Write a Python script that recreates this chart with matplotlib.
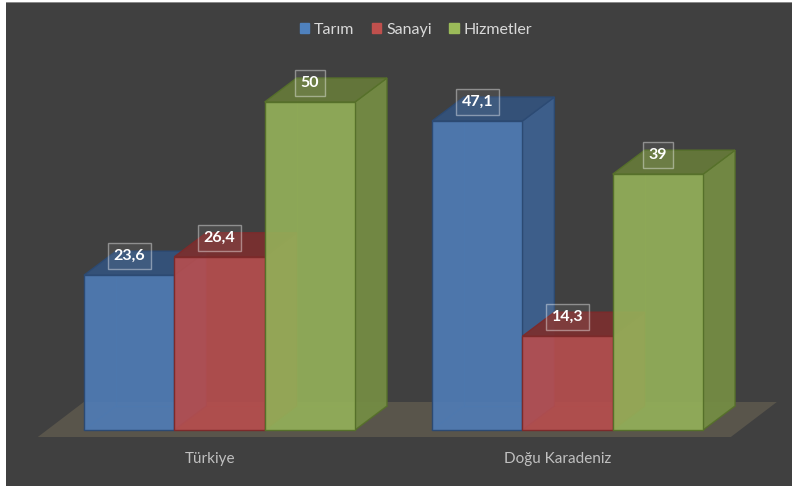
import matplotlib
matplotlib.use('Agg')
import matplotlib.pyplot as plt
from matplotlib.patches import Polygon, Rectangle, Patch

plt.rcParams['font.family'] = ['Lato', 'DejaVu Sans']

categories = ['Türkiye', 'Doğu Karadeniz']
series = ['Tarım', 'Sanayi', 'Hizmetler']
tarim = [23.6, 47.1]
sanayi = [26.4, 14.3]
hizmetler = [50, 39]
values = [tarim, sanayi, hizmetler]

# styles: (front, side, top, edge)
styles = [
    ('#4f7db8', '#3d608f', '#34527c', '#2c4a73'),
    ('#b84e4e', '#8e3a3a', '#7a3030', '#7d2a2a'),
    ('#95b25a', '#748c44', '#66793a', '#56702a'),
]
legend_colors = ['#4f81bd', '#c0504d', '#9bbb59']

W, H, DPI = 792, 486, 100
PX_X = 90.33      # pixels per bar width
PX_Y = 6.56       # pixels per value unit
X0 = 84           # left pixel of first bar
BASE = 56         # bar base, pixels from bottom
GAP = 0.853       # gap between groups (bar widths)
DX, DY = 32 / PX_X, 24 / PX_Y

fig = plt.figure(figsize=(W / DPI, H / DPI), dpi=DPI, facecolor='white')
fig.patches.append(Rectangle((6 / W, 0), 1 - 6 / W, (H - 2) / H, transform=fig.transFigure,
                             facecolor='#404040', edgecolor='none', zorder=-10))
fig.patches.append(Rectangle((6 / W, (H - 3) / H), 1 - 6 / W, 1.2 / H, transform=fig.transFigure,
                             facecolor='#8a8a8a', edgecolor='none', zorder=-10))

ax = fig.add_axes([0, 0, 1, 1])
ax.set_zorder(1)
ax.set_xlim(-X0 / PX_X, (W - X0) / PX_X)
ax.set_ylim(-BASE / PX_Y, (H - BASE) / PX_Y)
ax.axis('off')
ax.patch.set_alpha(0)

n_ser = len(series)
group_starts = [g * (n_ser + GAP) for g in range(len(categories))]

# floor
margin = 37 / PX_X
fx0 = group_starts[0] - margin
fx1 = group_starts[-1] + n_ser + margin
f_front = (-9.2 / PX_X, -7 / PX_Y)
f_back = (36.8 / PX_X, 28 / PX_Y)
floor = [(fx0 + f_front[0], f_front[1]), (fx1 + f_front[0], f_front[1]),
         (fx1 + f_back[0], f_back[1]), (fx0 + f_back[0], f_back[1])]
ax.add_patch(Polygon(floor, closed=True, facecolor='#59554b', edgecolor='none', zorder=1))

z = 2
for g, gs in enumerate(group_starts):
    for s in range(n_ser):
        h = values[s][g]
        x = gs + s
        w = 1.0
        fc, sc, tc, ec = styles[s]
        # hidden back edges
        ax.plot([x + DX, x + DX, x + w + DX], [h + DY, DY, DY], color=ec, lw=0.8, alpha=0.35, zorder=z)
        ax.plot([x, x + DX], [0, DY], color=ec, lw=0.8, alpha=0.35, zorder=z)
        front = [(x, 0), (x + w, 0), (x + w, h), (x, h)]
        right = [(x + w, 0), (x + w + DX, DY), (x + w + DX, h + DY), (x + w, h)]
        top = [(x, h), (x + w, h), (x + w + DX, h + DY), (x + DX, h + DY)]
        ax.add_patch(Polygon(right, closed=True, facecolor=sc, edgecolor=ec, lw=1.0, alpha=0.95, zorder=z + 1))
        ax.add_patch(Polygon(top, closed=True, facecolor=tc, edgecolor=ec, lw=1.0, alpha=0.95, zorder=z + 1))
        ax.add_patch(Polygon(front, closed=True, facecolor=fc, edgecolor='none', alpha=0.9, zorder=z + 2))
        ax.add_patch(Polygon(front, closed=True, facecolor='none', edgecolor=ec, lw=1.0, zorder=z + 2))
        z += 3

# data labels
for g, gs in enumerate(group_starts):
    for s in range(n_ser):
        h = values[s][g]
        x = gs + s
        lab = f"{h:g}".replace('.', ',')
        ax.text(x + 0.5, h + 19 / PX_Y, lab, ha='center', va='center', color='white',
                fontsize=11.5, fontweight='bold', zorder=100,
                bbox=dict(boxstyle='square,pad=0.36', facecolor=(1, 1, 1, 0.06),
                          edgecolor=(1, 1, 1, 0.4), lw=1.0))

# category labels
for g, gs in enumerate(group_starts):
    ax.text(gs + n_ser / 2 - 0.105, -29 / PX_Y, categories[g], ha='center', va='center',
            color='#c0c0c0', fontsize=11, zorder=100)

handles = [Patch(facecolor=c, edgecolor=c) for c in legend_colors]
fig.legend(handles, series, loc='center', bbox_to_anchor=(416 / W, 1 - 30 / H), ncol=3,
           frameon=False, fontsize=11.5, labelcolor='#d9d9d9', handlelength=0.6,
           handleheight=0.6, handletextpad=0.3, columnspacing=1.1, borderaxespad=0)

fig.savefig('out.png', dpi=DPI, facecolor=fig.get_facecolor())
